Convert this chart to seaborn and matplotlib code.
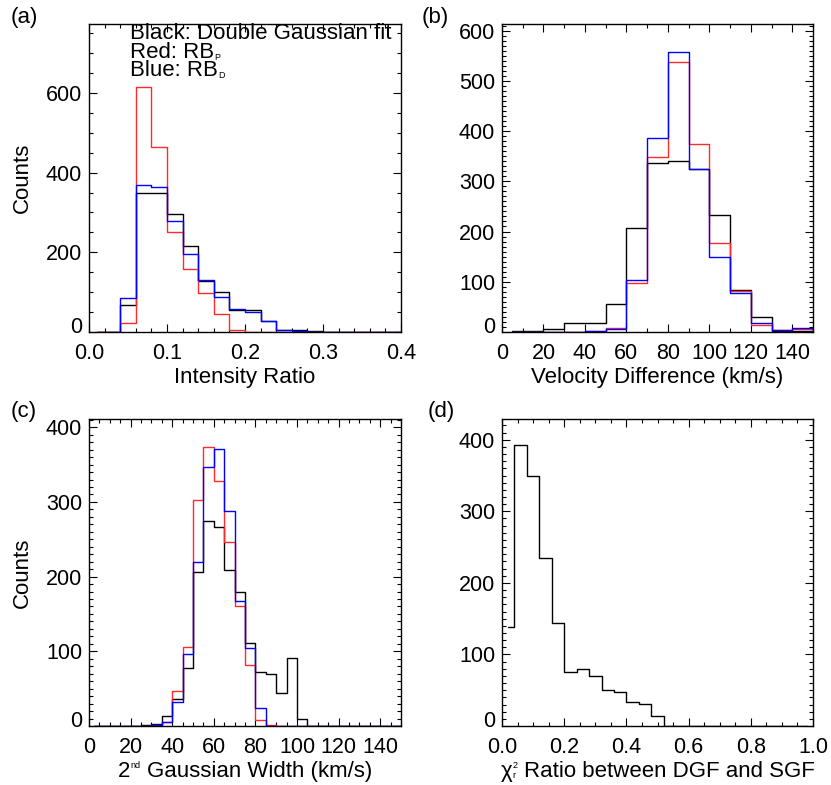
import numpy as np
import pandas as pd
import seaborn as sns
import matplotlib
matplotlib.use("Agg")
import matplotlib.pyplot as plt
from matplotlib.ticker import MultipleLocator
import matplotlib.transforms as mtransforms

sns.set_theme(style="ticks")
plt.rcParams['font.family'] = ['Liberation Sans', 'DejaVu Sans']
plt.rcParams['text.color'] = 'black'
plt.rcParams['axes.labelcolor'] = 'black'
plt.rcParams['xtick.color'] = 'black'
plt.rcParams['ytick.color'] = 'black'

# ---------------- Data ----------------
# (a) Intensity ratio, bin width 0.02 (bin centres)
ratio_x = [0.01, 0.03, 0.05, 0.07, 0.09, 0.11, 0.13, 0.15, 0.17, 0.19, 0.21,
           0.23, 0.25, 0.27, 0.29, 0.31, 0.33, 0.35, 0.37, 0.39, 0.41]
ratio_black = [0, 0, 69, 350, 350, 297, 216, 128, 101, 54, 54, 28, 6, 4, 3, 0, 0, 0, 0, 0, 0]
ratio_red   = [0, 0, 22, 615, 464, 251, 159, 98, 44, 4, 1, 1, 0, 0, 0, 0, 0, 0, 0, 0, 0]
ratio_blue  = [0, 0, 85, 370, 363, 279, 197, 131, 89, 58, 49, 28, 6, 3, 1, 0, 0, 0, 0, 0, 0]

# (b) Velocity difference, bin width 10 km/s
vel_x = [5, 15, 25, 35, 45, 55, 65, 75, 85, 95, 105, 115, 125, 135, 145, 155]
vel_black = [1, 2, 5, 17, 17, 55, 206, 337, 340, 325, 232, 84, 29, 2, 2, 0]
vel_red   = [0, 0, 0, 0, 1, 8, 98, 348, 538, 374, 177, 82, 13, 3, 5, 0]
vel_blue  = [0, 0, 0, 0, 2, 5, 104, 386, 558, 325, 150, 78, 18, 3, 7, 0]

# (c) 2nd Gaussian width, bin width 5 km/s
wid_x = [2.5, 7.5, 12.5, 17.5, 22.5, 27.5, 32.5, 37.5, 42.5, 47.5, 52.5, 57.5,
         62.5, 67.5, 72.5, 77.5, 82.5, 87.5, 92.5, 97.5, 102.5, 107.5, 112.5,
         117.5, 122.5, 127.5, 132.5, 137.5, 142.5, 147.5, 152.5]
wid_black = [0, 0, 0, 0, 0, 1, 3, 13, 36, 77, 206, 274, 266, 209, 179, 111, 72, 69,
             44, 91, 10, 0, 0, 0, 0, 0, 0, 0, 0, 0, 0]
wid_red   = [0, 0, 0, 0, 0, 0, 1, 6, 47, 106, 302, 373, 328, 246, 160, 82, 8, 1,
             0, 0, 0, 0, 0, 0, 0, 0, 0, 0, 0, 0, 0]
wid_blue  = [0, 0, 0, 0, 0, 0, 2, 5, 32, 97, 219, 347, 371, 288, 168, 104, 24, 0,
             0, 0, 0, 0, 0, 0, 0, 0, 0, 0, 0, 0, 0]

# (d) chi2 ratio, bin width 0.04
chi_x = [0.02, 0.06, 0.10, 0.14, 0.18, 0.22, 0.26, 0.30, 0.34, 0.38, 0.42, 0.46,
         0.50, 0.54, 0.58, 0.62, 0.66, 0.70, 0.74, 0.78, 0.82, 0.86, 0.90, 0.94, 0.98]
chi_black = [139, 392, 350, 235, 144, 76, 79, 70, 50, 48, 33, 31, 14, 0, 0, 0, 0, 0,
             0, 0, 0, 0, 0, 0, 0]

legend_lines = ["Black: Double Gaussian fit", "Red: RB", "Blue: RB"]
legend_subs = [None, "P", "D"]

W, H = 831, 785
fig = plt.figure(figsize=(W / 100, H / 100), dpi=100)


def box(l, r, t, b):
    return [l / W, 1 - b / H, (r - l) / W, (b - t) / H]


axa = fig.add_axes(box(89, 401, 24, 332))
axb = fig.add_axes(box(502, 813, 24, 332))
axc = fig.add_axes(box(89, 401, 419, 726))
axd = fig.add_axes(box(502, 813, 419, 726))

RED = "#ff2a2a"
BLUE = "#0000ff"


def steps(ax, x, y, color):
    df = pd.DataFrame({"x": x, "y": y})
    sns.lineplot(data=df, x="x", y="y", ax=ax, color=color, lw=1.0,
                 drawstyle="steps-mid", estimator=None, sort=False)


for x, y, c in [(ratio_x, ratio_black, "black"), (ratio_x, ratio_red, RED),
                (ratio_x, ratio_blue, BLUE)]:
    steps(axa, x, y, c)
for x, y, c in [(vel_x, vel_black, "black"), (vel_x, vel_red, RED),
                (vel_x, vel_blue, BLUE)]:
    steps(axb, x, y, c)
for x, y, c in [(wid_x, wid_black, "black"), (wid_x, wid_red, RED),
                (wid_x, wid_blue, BLUE)]:
    steps(axc, x, y, c)
steps(axd, chi_x, chi_black, "black")

fs = 16
tfs = 15.5


def style(ax, xlim, ylim, xmaj, xmin, ymaj, ymin, xfmt):
    ax.set_xlim(*xlim)
    ax.set_ylim(*ylim)
    ax.xaxis.set_major_locator(MultipleLocator(xmaj))
    ax.xaxis.set_minor_locator(MultipleLocator(xmin))
    ax.yaxis.set_major_locator(MultipleLocator(ymaj))
    ax.yaxis.set_minor_locator(MultipleLocator(ymin))
    ax.xaxis.set_major_formatter(matplotlib.ticker.FormatStrFormatter(xfmt))
    ax.tick_params(which="both", direction="in", top=True, right=True,
                   labelsize=tfs, color="black", labelcolor="black", width=0.8)
    ax.tick_params(which="major", length=6)
    ax.tick_params(which="minor", length=3)
    ax.tick_params(axis="x", pad=8)
    ax.tick_params(axis="y", pad=5)
    for s in ax.spines.values():
        s.set_linewidth(1.0)
        s.set_color("black")
        s.set_visible(True)
    ax.set_xlabel("")
    ax.set_ylabel("")
    # IDL-like lifted zero label
    fig.canvas.draw()
    off = mtransforms.ScaledTranslation(0, 7 / 100, fig.dpi_scale_trans)
    for t in ax.yaxis.get_major_ticks():
        if abs(t.get_loc()) < 1e-9:
            t.label1.set_transform(t.label1.get_transform() + off)


style(axa, (0, 0.4), (0, 773), 0.1, 0.02, 200, 50, "%.1f")
style(axb, (0, 150), (0, 613), 20, 10, 100, 10, "%d")
style(axc, (0, 150), (0, 411), 20, 5, 100, 10, "%d")
style(axd, (0, 1.0), (0, 429), 0.2, 0.05, 100, 10, "%.1f")

axa.set_xlabel("Intensity Ratio", fontsize=fs, labelpad=2)
axb.set_xlabel("Velocity Difference (km/s)", fontsize=fs, labelpad=2)
axa.set_ylabel("Counts", fontsize=fs, labelpad=9)
axc.set_ylabel("Counts", fontsize=fs, labelpad=9)

renderer = fig.canvas.get_renderer()


def text_width(s, size):
    tmp = fig.text(0, 0, s, fontsize=size)
    w = tmp.get_window_extent(renderer).width
    tmp.remove()
    return w


def compose(pieces, cx_px, base_px):
    """pieces: list of (text, size, dy_px_up, advance?)"""
    widths = [text_width(s, sz) if s.strip() else sz * 1.389 * 0.278
              for s, sz, dy, adv in pieces]
    total = sum(w for w, p in zip(widths, pieces) if p[3])
    x = cx_px - total / 2
    for (s, sz, dy, adv), w in zip(pieces, widths):
        if s.strip():
            fig.text(x / W, 1 - (base_px - dy) / H, s, fontsize=sz,
                     ha="left", va="baseline")
        if adv:
            x += w + (0.5 if sz < 10 else 0)


# bottom-row x labels with tiny IDL-like super/subscripts
compose([("2", fs, 0, True), ("nd", 6.5, 9, True), (" ", fs, 0, True),
         ("Gaussian Width (km/s)", fs, 0, True)], (89 + 401) / 2, 777)
compose([("\u03c7", fs, 0, True), ("r", 6.5, -1, False), ("2", 6.5, 9, True),
         (" ", fs, 0, True), ("Ratio between DGF and SGF", fs, 0, True)],
        (502 + 813) / 2, 777)

for lab, (px, py) in zip(["(a)", "(b)", "(c)", "(d)"],
                         [(24, 17), (435, 17), (24, 411), (441, 411)]):
    fig.text(px / W, 1 - py / H, lab, fontsize=fs, ha="center", va="center")

# legend block in panel (a): one multi-line text + tiny subscripts
x0_px, y_mid_px, line_px = 130, 52, 18.5
leg = fig.text(x0_px / W, 1 - y_mid_px / H, "\n".join(legend_lines),
               fontsize=fs, ha="left", va="center", linespacing=0.84)
for i, (line, sub) in enumerate(zip(legend_lines, legend_subs)):
    if sub is None:
        continue
    w = text_width(line, fs)
    base_px = y_mid_px + (i - 1) * line_px + 8
    fig.text((x0_px + w + 0.5) / W, 1 - base_px / H, sub, fontsize=6.5,
             ha="left", va="baseline")

fig.savefig("out.png", dpi=100)
